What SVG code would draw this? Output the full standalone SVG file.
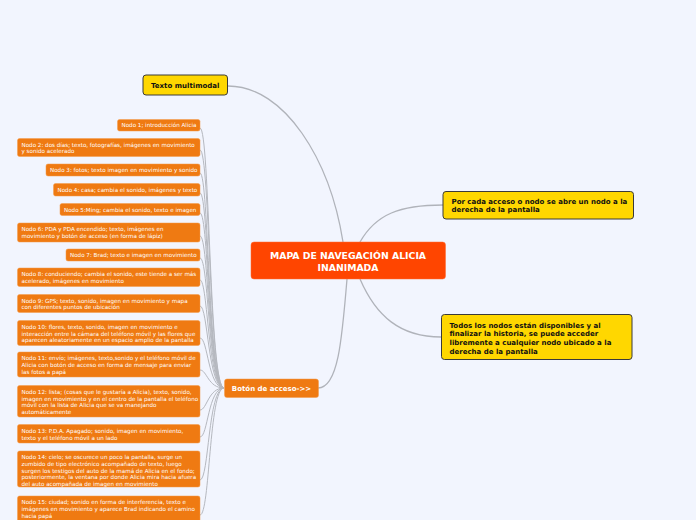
<svg xmlns="http://www.w3.org/2000/svg" width="696" height="520" viewBox="0 0 696 520">
<style>
.bg{fill:#f2f5fe}
.c{fill:none;stroke:#b5b8bf;stroke-width:1}
.cm{fill:none;stroke:#b0b3ba;stroke-width:1.3}
.o{fill:#ef7a12;stroke:#f39a4a;stroke-width:0.5}
.y{fill:#ffd700;stroke:#3a3a3a;stroke-width:1}
.ctr{fill:#ff4500;stroke:#ff6a30;stroke-width:0.5}
.t{font-family:"DejaVu Sans",Verdana,sans-serif;font-size:5.6px;fill:#ffffff}
.tb{font-family:"DejaVu Sans",Verdana,sans-serif;font-size:7px;font-weight:bold;fill:#111111}
.tw{font-family:"DejaVu Sans",Verdana,sans-serif;font-size:7px;font-weight:bold;fill:#ffffff}
.tc{font-family:"DejaVu Sans",Verdana,sans-serif;font-size:9.3px;font-weight:bold;fill:#ffffff}
</style>
<rect class="bg" x="0" y="0" width="696" height="520"/>
<g id="connectors">
<path class="cm" d="M228,86 C285,86 330,160 343,242"/>
<path class="cm" d="M360,242 C376,214 400,205 443,205"/>
<path class="cm" d="M360,279 C376,316 400,337 441,337"/>
<path class="cm" d="M347,279 C342,340 338,388 318,388"/>
<path class="c" d="M200,128 C210,128 209,388 224,388"/>
<path class="c" d="M200,150 C210,150 209,388 224,388"/>
<path class="c" d="M200,173 C209,173 208,388 224,388"/>
<path class="c" d="M200,193 C209,193 208,388 224,388"/>
<path class="c" d="M200,213 C209,213 208,388 224,388"/>
<path class="c" d="M200,236 C209,236 208,388 224,388"/>
<path class="c" d="M200,258 C209,258 208,388 224,388"/>
<path class="c" d="M200,280 C208,280 208,388 224,388"/>
<path class="c" d="M200,306 C208,306 208,388 224,388"/>
<path class="c" d="M200,338 C208,338 208,388 224,388"/>
<path class="c" d="M200,370 C207,370 208,388 224,388"/>
<path class="c" d="M200,410 C207,410 208,388 224,388"/>
<path class="c" d="M200,437 C208,437 208,388 224,388"/>
<path class="c" d="M200,480 C209,480 208,388 224,388"/>
<path class="c" d="M200,515 C210,515 209,388 224,388"/>
</g>
<g id="center">
<rect class="ctr" x="251" y="242" width="194.5" height="37" rx="3"/>
<text class="tc" x="348" y="259.3" text-anchor="middle">MAPA DE NAVEGACIÓN ALICIA</text>
<text class="tc" x="348" y="270.8" text-anchor="middle">INANIMADA</text>
</g>
<g id="texto-multimodal">
<rect class="y" x="143" y="75" width="84.5" height="20" rx="3"/>
<text class="tb" x="185.2" y="87.5" text-anchor="middle">Texto multimodal</text>
</g>
<g id="info-1">
<rect class="y" x="443" y="191.5" width="190.5" height="27.5" rx="3"/>
<text class="tb" x="451.5" y="204.2">Por cada acceso o nodo se abre un nodo a la</text>
<text class="tb" x="451.5" y="212.2">derecha de la pantalla</text>
</g>
<g id="info-2">
<rect class="y" x="441.5" y="314.5" width="190.5" height="45" rx="3"/>
<text class="tb" x="449.5" y="327.5">Todos los nodos están disponibles y al</text>
<text class="tb" x="449.5" y="336.2">finalizar la historia, se puede acceder</text>
<text class="tb" x="449.5" y="344.9">libremente a cualquier nodo ubicado a la</text>
<text class="tb" x="449.5" y="353.6">derecha de la pantalla</text>
</g>
<g id="boton">
<rect class="o" x="224.5" y="379" width="94" height="18.5" rx="2.5"/>
<text class="tw" x="271.5" y="390.6" text-anchor="middle">Botón de acceso-&gt;&gt;</text>
</g>
<g id="nodo1"><rect class="o" x="117.5" y="119.5" width="82.5" height="11.5" rx="2"/>
<text class="t" x="121.5" y="127">Nodo 1; introducción Alicia</text></g>
<g id="nodo2"><rect class="o" x="17.5" y="138.5" width="182.5" height="18" rx="2"/>
<text class="t" x="21.5" y="146.5">Nodo 2: dos días; texto, fotografías, imágenes en movimiento<tspan x="21.5" dy="6.8">y sonido acelerado</tspan></text></g>
<g id="nodo3"><rect class="o" x="46" y="164" width="154" height="12" rx="2"/>
<text class="t" x="50" y="172">Nodo 3: fotos; texto imagen en movimiento y sonido</text></g>
<g id="nodo4"><rect class="o" x="53.5" y="183.5" width="146.5" height="12.5" rx="2"/>
<text class="t" x="57.5" y="191.8">Nodo 4: casa; cambia el sonido, imágenes y texto</text></g>
<g id="nodo5"><rect class="o" x="60" y="203.5" width="140" height="12" rx="2"/>
<text class="t" x="64" y="211.5">Nodo 5:Ming; cambia el sonido, texto e imagen</text></g>
<g id="nodo6"><rect class="o" x="17.5" y="223" width="182.5" height="19" rx="2"/>
<text class="t" x="21.5" y="230.6">Nodo 6: PDA y PDA encendido; texto, imágenes en<tspan x="21.5" dy="7.2">movimiento y botón de acceso (en forma de lápiz)</tspan></text></g>
<g id="nodo7"><rect class="o" x="66" y="249" width="134" height="12" rx="2"/>
<text class="t" x="70" y="257.2">Nodo 7: Brad; texto e imagen en movimiento</text></g>
<g id="nodo8"><rect class="o" x="17.5" y="268" width="182.5" height="18.5" rx="2"/>
<text class="t" x="21.5" y="276.2">Nodo 8: conduciendo; cambia el sonido, este tiende a ser más<tspan x="21.5" dy="6.7">acelerado, imágenes en movimiento</tspan></text></g>
<g id="nodo9"><rect class="o" x="17.5" y="294.5" width="182.5" height="18" rx="2"/>
<text class="t" x="21.5" y="302.6">Nodo 9: GPS; texto, sonido, imagen en movimiento y mapa<tspan x="21.5" dy="6.7">con diferentes puntos de ubicación</tspan></text></g>
<g id="nodo10"><rect class="o" x="17.5" y="320.5" width="182.5" height="25" rx="2"/>
<text class="t" x="21.5" y="328.8">Nodo 10: flores, texto, sonido, imagen en movimiento e<tspan x="21.5" dy="6.7">interacción entre la cámara del teléfono móvil y las flores que</tspan><tspan x="21.5" dy="6.7">aparecen aleatoriamente en un espacio amplio de la pantalla</tspan></text></g>
<g id="nodo11"><rect class="o" x="17.5" y="352" width="182.5" height="25" rx="2"/>
<text class="t" x="21.5" y="360.3">Nodo 11: envío; imágenes, texto,sonido y el teléfono móvil de<tspan x="21.5" dy="6.7">Alicia con botón de acceso en forma de mensaje para enviar</tspan><tspan x="21.5" dy="6.7">las fotos a papá</tspan></text></g>
<g id="nodo12"><rect class="o" x="17.5" y="385.5" width="182.5" height="31.5" rx="2"/>
<text class="t" x="21.5" y="394">Nodo 12: lista; (cosas que le gustaría a Alicia), texto, sonido,<tspan x="21.5" dy="6.6">imagen en movimiento y en el centro de la pantalla el teléfono</tspan><tspan x="21.5" dy="6.6">móvil con la lista de Alicia que se va manejando</tspan><tspan x="21.5" dy="6.6">automáticamente</tspan></text></g>
<g id="nodo13"><rect class="o" x="17.5" y="424.5" width="182.5" height="18.5" rx="2"/>
<text class="t" x="21.5" y="432.7">Nodo 13: P.D.A. Apagado; sonido, imagen en movimiento,<tspan x="21.5" dy="6.8">texto y el teléfono móvil a un lado</tspan></text></g>
<g id="nodo14"><rect class="o" x="17.5" y="451" width="182.5" height="36" rx="2"/>
<text class="t" x="21.5" y="459.3">Nodo 14: cielo; se oscurece un poco la pantalla, surge un<tspan x="21.5" dy="6.6">zumbido de tipo electrónico acompañado de texto, luego</tspan><tspan x="21.5" dy="6.6">surgen los testigos del auto de la mamá de Alicia en el fondo;</tspan><tspan x="21.5" dy="6.6">posteriormente, la ventana por donde Alicia mira hacia afuera</tspan><tspan x="21.5" dy="6.6">del auto acompañada de imagen en movimiento</tspan></text></g>
<g id="nodo15"><rect class="o" x="17.5" y="496" width="182.5" height="28" rx="2"/>
<text class="t" x="21.5" y="503.8">Nodo 15: ciudad; sonido en forma de interferencia, texto e<tspan x="21.5" dy="7">imágenes en movimiento y aparece Brad indicando el camino</tspan><tspan x="21.5" dy="7">hacia papá</tspan></text></g>
</svg>
